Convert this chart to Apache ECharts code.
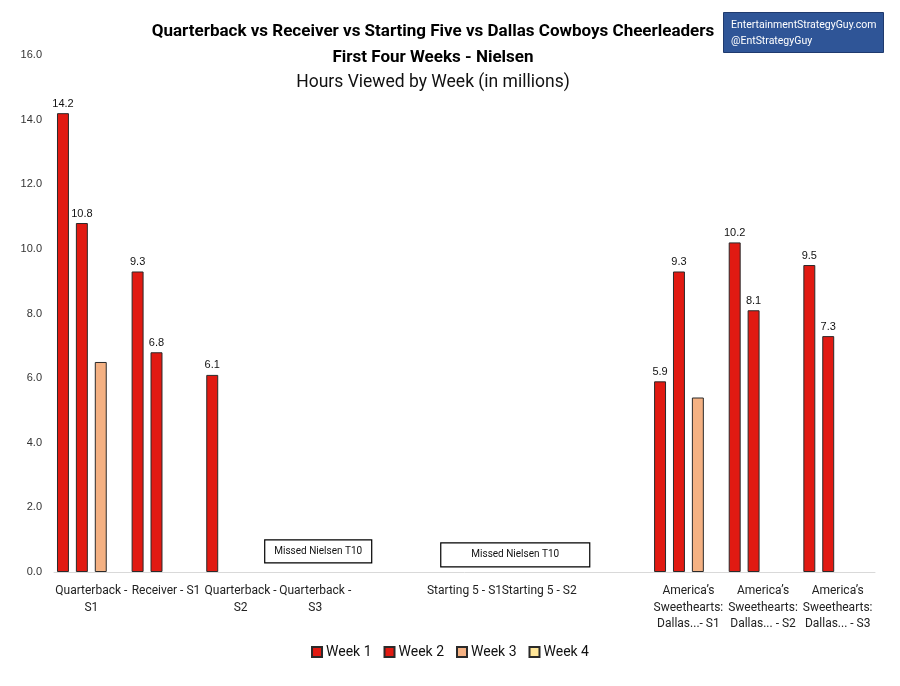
<!DOCTYPE html>
<html>
<head>
    <meta charset="utf-8">
    <title>Quarterback vs Receiver vs Starting Five vs Dallas Cowboys Cheerleaders</title>
    <script src="https://cdn.jsdelivr.net/npm/echarts@6/dist/echarts.min.js"></script>
    <style>
        html, body { margin: 0; padding: 0; background: #fff; }
        #chart { width: 900px; height: 686px; }
    </style>
</head>
<body>
<div id="chart"></div>
<script>
    var NARROW = "Roboto, 'Liberation Sans Narrow', sans-serif";
    var PLAIN = "'Liberation Sans', Arial, sans-serif";

    // categories (blank ones are the gaps in the original)
    var shows = [
        'Quarterback -\nS1',
        'Receiver - S1',
        'Quarterback -\nS2',
        'Quarterback -\nS3',
        '',
        'Starting 5 - S1',
        'Starting 5 - S2',
        '',
        'America\u2019s\nSweethearts:\nDallas...- S1',
        'America\u2019s\nSweethearts:\nDallas... - S2',
        'America\u2019s\nSweethearts:\nDallas... - S3'
    ];
    var weekNames = ['Week 1', 'Week 2', 'Week 3', 'Week 4'];
    var week1 = [14.2, 9.3, 6.1, null, null, null, null, null, 5.9, 10.2, 9.5];
    var week2 = [10.8, 6.8, null, null, null, null, null, null, 9.3, 8.1, 7.3];
    var week3 = [6.5, null, null, null, null, null, null, null, 5.4, null, null];
    var week4 = [null, null, null, null, null, null, null, null, null, null, null];
    var weekColors = ['#e11a12', '#e11a12', '#f4b183', '#ffe699'];
    var weekLabels = [true, true, false, false];
    var yTicks = { min: 0, max: 16, interval: 2 };

    // "Missed Nielsen T10" notes: category position + value height
    var notes = [
        { text: 'Missed Nielsen T10', cat: 3.04, value: 0.64, w: 107, h: 23 },
        { text: 'Missed Nielsen T10', cat: 5.68, value: 0.53, w: 149, h: 24 }
    ];

    var chart = echarts.init(document.getElementById('chart'));

    var series = [week1, week2, week3, week4].map(function (vals, i) {
        return {
            name: weekNames[i],
            type: 'bar',
            data: vals,
            barGap: '58%',
            barCategoryGap: '8%',
            itemStyle: { color: weekColors[i], borderColor: '#2a2a2a', borderWidth: 1 },
            label: {
                show: weekLabels[i],
                position: 'top',
                distance: 4,
                color: '#111',
                fontSize: 11,
                fontFamily: PLAIN,
                formatter: function (p) { return p.value.toFixed(1); }
            },
            animation: false
        };
    });

    var option = {
        backgroundColor: '#fff',
        animation: false,
        title: [
            { text: 'Quarterback vs Receiver vs Starting Five vs Dallas Cowboys Cheerleaders',
              left: 428, top: 18, textAlign: 'center',
              textStyle: { fontFamily: NARROW, fontSize: 17, fontWeight: 'bold', color: '#000' } },
            { text: 'First Four Weeks - Nielsen',
              left: 428, top: 44, textAlign: 'center',
              textStyle: { fontFamily: NARROW, fontSize: 17, fontWeight: 'bold', color: '#000' } },
            { text: 'Hours Viewed by Week (in millions)',
              left: 428, top: 69, textAlign: 'center',
              textStyle: { fontFamily: NARROW, fontSize: 17.5, fontWeight: 'normal', color: '#111' } }
        ],
        legend: {
            data: weekNames,
            bottom: 22,
            left: 'center',
            icon: 'rect',
            itemWidth: 10,
            itemHeight: 10,
            itemGap: 12,
            textStyle: { fontFamily: NARROW, fontSize: 14, color: '#111', padding: [0, 0, 0, -1] }
        },
        grid: { left: 54, right: 25, top: 55, bottom: 114, containLabel: false },
        xAxis: {
            type: 'category',
            data: shows,
            axisLine: { show: true, lineStyle: { color: '#d9d9d9', width: 1 } },
            axisTick: { show: false },
            axisLabel: {
                interval: 0,
                margin: 11,
                fontFamily: NARROW,
                fontSize: 12,
                lineHeight: 16.5,
                color: '#222'
            }
        },
        yAxis: {
            type: 'value',
            min: yTicks.min,
            max: yTicks.max,
            interval: yTicks.interval,
            axisLine: { show: false },
            axisTick: { show: false },
            splitLine: { show: false },
            axisLabel: {
                margin: 12,
                fontFamily: PLAIN,
                fontSize: 11,
                color: '#333',
                formatter: function (v) { return v.toFixed(1); }
            }
        },
        series: series
    };
    chart.setOption(option);

    // annotations placed through the axes
    var p0 = chart.convertToPixel({ xAxisIndex: 0, yAxisIndex: 0 }, [0, 0]);
    var p1 = chart.convertToPixel({ xAxisIndex: 0, yAxisIndex: 0 }, [1, 1]);
    var step = p1[0] - p0[0];
    var unit = p0[1] - p1[1];
    var graphics = [];
    notes.forEach(function (n) {
        var cx = p0[0] + n.cat * step;
        var cy = p0[1] - n.value * unit;
        graphics.push({
            type: 'rect',
            shape: { x: cx - n.w / 2, y: cy - n.h / 2, width: n.w, height: n.h },
            style: { fill: '#fff', stroke: '#000', lineWidth: 1.2 },
            z: 10
        });
        graphics.push({
            type: 'text',
            x: cx, y: cy,
            style: { text: n.text, fill: '#111', font: '10px ' + NARROW, align: 'center', verticalAlign: 'middle' },
            z: 11
        });
    });
    // site badge, top right
    graphics.push({
        type: 'rect',
        shape: { x: 723.5, y: 12.5, width: 160, height: 40 },
        style: { fill: '#2f5597', stroke: '#1f3a6e', lineWidth: 1 },
        z: 10
    });
    graphics.push({
        type: 'text',
        x: 731, y: 18,
        style: { text: 'EntertainmentStrategyGuy.com\n@EntStrategyGuy', fill: '#fff',
                 font: '10.5px ' + NARROW, lineHeight: 15.5 },
        z: 11
    });
    chart.setOption({ graphic: graphics });
</script>
</body>
</html>
